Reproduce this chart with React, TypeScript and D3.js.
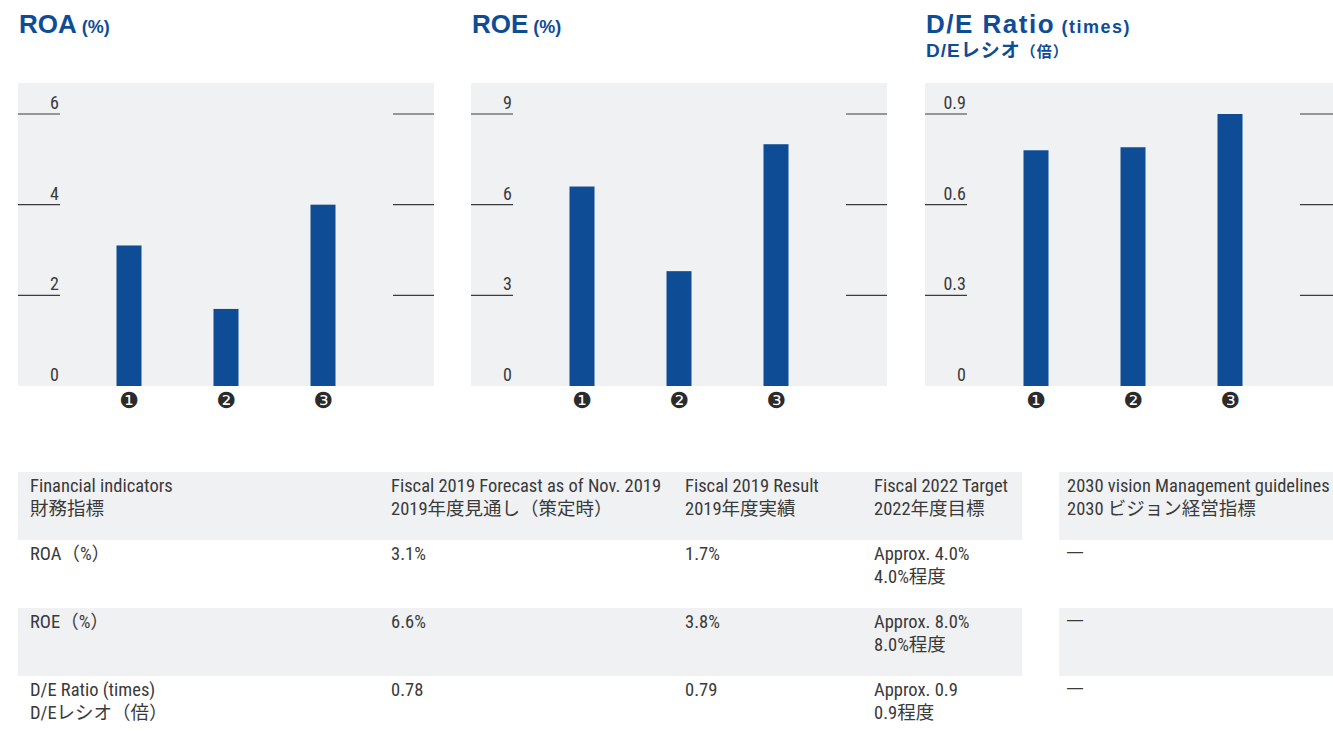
import React, { useEffect, useRef } from "react";
import * as d3 from "d3";

// bar categories (❶ Fiscal 2019 forecast, ❷ Fiscal 2019 result, ❸ Fiscal 2022 target)
const periods = ["❶", "❷", "❸"];
const roaValues = [3.1, 1.7, 4.0];
const roeValues = [6.6, 3.8, 8.0];
const deValues = [0.78, 0.79, 0.9];
const roaTicks = [0, 2, 4, 6];
const roeTicks = [0, 3, 6, 9];
const deTicks = [0, 0.3, 0.6, 0.9];

const headerLines = [
  ["Financial indicators", "財務指標"],
  ["Fiscal 2019 Forecast as of Nov. 2019", "2019年度見通し（策定時）"],
  ["Fiscal 2019 Result", "2019年度実績"],
  ["Fiscal 2022 Target", "2022年度目標"],
  ["2030 vision Management guidelines", "2030 ビジョン経営指標"],
];
const indicatorNames = [["ROA（%）"], ["ROE（%）"], ["D/E Ratio (times)", "D/Eレシオ（倍）"]];
const targetLines = [
  ["Approx. 4.0%", "4.0%程度"],
  ["Approx. 8.0%", "8.0%程度"],
  ["Approx. 0.9", "0.9程度"],
];
const visionValues = ["—", "—", "—"];

const BLUE = "#0f4c96";
const GRAY_BG = "#f0f1f3";
const TEXT = "#3a3a3a";
const TITLE_FONT = "'Liberation Sans', Arial, 'Noto Sans CJK JP', sans-serif";
const BODY_FONT = "'Liberation Sans Narrow', 'Roboto Condensed', Roboto, 'Noto Sans CJK JP', sans-serif";

function App() {
  const ref = useRef<SVGSVGElement>(null);

  useEffect(() => {
    const svg = d3.select(ref.current);
    svg.selectAll("*").remove();

    const charts = [
      { title: "ROA", unit: " (%)", sub: "", spacing: 0, values: roaValues, ticks: roaTicks, fmt: (d: number) => `${d}` },
      { title: "ROE", unit: " (%)", sub: "", spacing: 0, values: roeValues, ticks: roeTicks, fmt: (d: number) => `${d}` },
      { title: "D/E Ratio", unit: " (times)", sub: "D/Eレシオ", spacing: 1.5, values: deValues, ticks: deTicks, fmt: (d: number) => (d === 0 ? "0" : d3.format(".1f")(d)) },
    ];
    const panelLeft = [18, 471, 925];
    const panelW = 416, panelTop = 83, panelBottom = 386;

    charts.forEach((c, i) => {
      const g = svg.append("g").attr("transform", `translate(${panelLeft[i]},0)`);

      // title
      const t = g.append("text").attr("x", 1).attr("y", 33)
        .attr("fill", BLUE).attr("font-family", TITLE_FONT).attr("font-weight", "bold")
        .attr("letter-spacing", c.spacing);
      t.append("tspan").attr("font-size", 26).text(c.title);
      t.append("tspan").attr("font-size", 18).text(c.unit);
      if (c.sub) {
        const s = g.append("text").attr("x", 1).attr("y", 57)
          .attr("fill", BLUE).attr("font-family", TITLE_FONT).attr("font-weight", "bold")
          .attr("letter-spacing", 1);
        s.append("tspan").attr("font-size", 19).text(c.sub);
        s.append("tspan").attr("font-size", 15).text("（倍）");
      }

      g.append("rect").attr("x", 0).attr("y", panelTop).attr("width", panelW)
        .attr("height", panelBottom - panelTop).attr("fill", GRAY_BG);

      const y = d3.scaleLinear().domain([0, d3.max(c.ticks) as number]).range([panelBottom, 114]);
      const x = d3.scalePoint<string>().domain(periods).range([111, 305]);

      // tick lines left and right
      const tickG = g.selectAll("g.tick").data(c.ticks).join("g").attr("class", "tick");
      tickG.filter(d => d !== 0).append("line")
        .attr("x1", 0).attr("x2", 42).attr("y1", d => y(d)).attr("y2", d => y(d))
        .attr("stroke", "#3c3c3c").attr("stroke-width", 1.2);
      tickG.filter(d => d !== 0).append("line")
        .attr("x1", panelW - 41).attr("x2", panelW).attr("y1", d => y(d)).attr("y2", d => y(d))
        .attr("stroke", "#3c3c3c").attr("stroke-width", 1.2);
      tickG.append("text")
        .attr("x", 41).attr("y", d => y(d) - 5)
        .attr("text-anchor", "end")
        .attr("font-family", BODY_FONT).attr("font-size", 18).attr("fill", TEXT)
        .text(d => c.fmt(d));

      // bars
      g.selectAll("rect.bar").data(c.values).join("rect").attr("class", "bar")
        .attr("x", (_d, j) => (x(periods[j]) as number) - 12.5)
        .attr("width", 25)
        .attr("y", d => y(d))
        .attr("height", d => panelBottom - y(d))
        .attr("fill", BLUE);

      // category labels
      g.selectAll("text.cat").data(periods).join("text").attr("class", "cat")
        .attr("x", d => x(d) as number).attr("y", 400)
        .attr("text-anchor", "middle").attr("dominant-baseline", "central")
        .attr("font-family", "'DejaVu Sans', sans-serif").attr("font-size", 22)
        .attr("fill", "#2b2b2b")
        .text(d => d);
    });

    // ---- table ----
    const colX = [30, 391, 685, 874, 1067];
    const rowTop = [472, 540, 608, 676];
    const rowH = 68;
    const shaded = [0, 2];

    shaded.forEach(r => {
      svg.append("rect").attr("x", 18).attr("y", rowTop[r]).attr("width", 1022 - 18).attr("height", rowH).attr("fill", GRAY_BG);
      svg.append("rect").attr("x", 1059).attr("y", rowTop[r]).attr("width", 1333 - 1059).attr("height", rowH).attr("fill", GRAY_BG);
    });

    const seriesByRow = [roaValues, roeValues, deValues];
    const fmtByRow = [
      (v: number) => d3.format(".1f")(v) + "%",
      (v: number) => d3.format(".1f")(v) + "%",
      (v: number) => d3.format(".2f")(v),
    ];
    const rows: string[][][] = [headerLines];
    seriesByRow.forEach((vals, r) => {
      rows.push([
        indicatorNames[r],
        [fmtByRow[r](vals[0])],
        [fmtByRow[r](vals[1])],
        targetLines[r],
        [visionValues[r]],
      ]);
    });

    rows.forEach((cells, r) => {
      cells.forEach((lines, ci) => {
        lines.forEach((line, li) => {
          const isDash = line === "—";
          svg.append("text")
            .attr("x", colX[ci])
            .attr("y", rowTop[r] + 20 + li * 23 - (isDash ? 3 : 0))
            .attr("font-family", isDash ? "'Liberation Sans', Arial, sans-serif" : BODY_FONT)
            .attr("font-size", isDash ? 16 : 18.5)
            .attr("font-weight", isDash ? 300 : 400)
            .attr("fill", TEXT)
            .text(line);
        });
      });
    });
  }, []);

  return (
    <svg ref={ref} width={1333} height={736}
      style={{ position: "absolute", left: 0, top: 0, background: "#fff" }} />
  );
}

export default App;
